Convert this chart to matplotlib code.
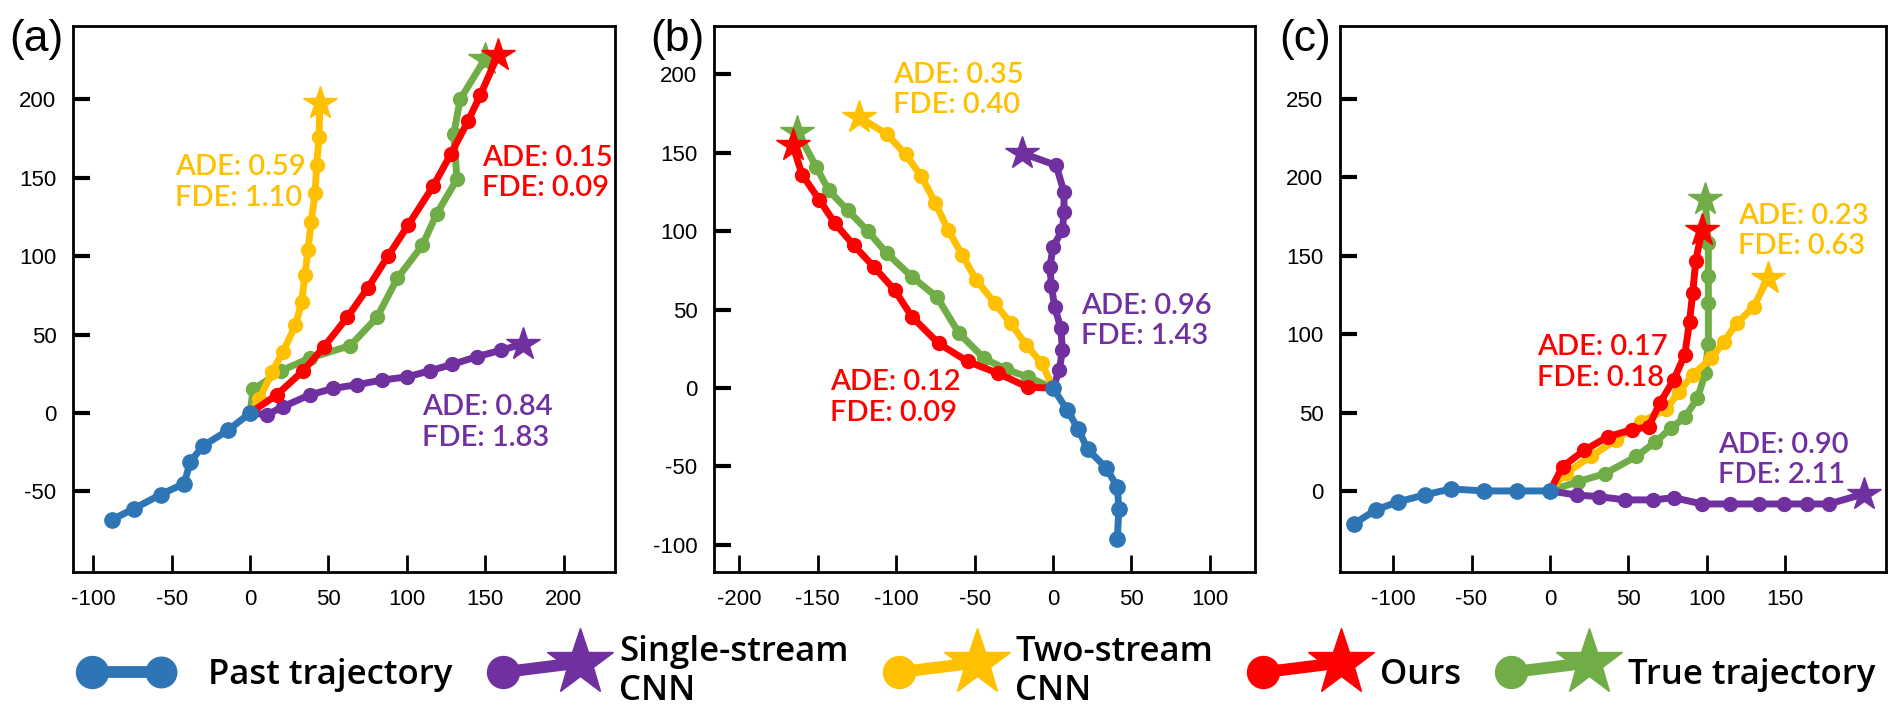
import matplotlib
matplotlib.use('Agg')
import matplotlib.pyplot as plt
from matplotlib.legend_handler import HandlerBase
from matplotlib.lines import Line2D

plt.rcParams['font.family'] = 'Liberation Sans'
plt.rcParams['axes.unicode_minus'] = False

C_PAST = '#2E75B6'
C_SINGLE = '#7030A0'
C_TWO = '#FFC000'
C_OURS = '#FF0000'
C_TRUE = '#70AD47'

# ---- panel (a) ----
past_a_x = [-88, -74, -57, -42, -38, -30, -14, 0]
past_a_y = [-68, -61, -52, -45, -31, -21, -11, 0]
single_a_x = [0, 11, 21, 38, 53, 68, 84, 100, 115, 129, 145, 160, 174]
single_a_y = [0, -1, 4, 11.5, 15.7, 18, 21, 23, 27, 31, 36, 40, 44]
two_a_x = [0, 6, 14, 21, 29, 33, 35, 37, 39, 41.5, 42.5, 44, 44.6]
two_a_y = [0, 9, 26, 39, 56, 71, 88, 104, 122, 140, 158, 176, 198]
ours_a_x = [0, 17, 34, 47, 62, 75, 88, 101, 117, 128, 139, 147, 158]
ours_a_y = [0, 11.5, 27, 42, 61, 79.5, 100, 120, 145, 165, 186, 203, 228]
true_a_x = [0, 2, 20, 38, 64, 81, 94, 110, 119, 132, 130, 134, 150]
true_a_y = [0, 15, 27, 35, 43, 61, 86, 107, 127, 149, 178, 200, 226]

# ---- panel (b) ----
past_b_x = [41, 42, 41, 34, 22, 16, 9, 0]
past_b_y = [-96, -77, -63, -51, -39, -26, -14, 0]
single_b_x = [0, 4, 6, 5, 1, -1, -2, 0, 6, 7, 7, 2, -20]
single_b_y = [0, 11.5, 24, 38, 52, 65, 77, 90, 101, 112, 125, 142, 150]
two_b_x = [0, -7, -17, -27, -37, -49, -58, -67, -75, -84, -94, -106, -124]
two_b_y = [0, 15.7, 27.4, 41.3, 54, 69, 85, 101, 118, 135, 149, 162, 173]
ours_b_x = [0, -16, -35, -54.5, -73, -90, -101, -114, -127, -139, -149, -160, -166]
ours_b_y = [0, 0.5, 9.4, 17, 28.5, 45.5, 62.5, 77, 91, 105, 120, 136, 155]
true_b_x = [0, -16, -30, -44, -60, -74, -90, -106, -118, -131, -143, -151, -163]
true_b_y = [0, 7, 12, 19, 35, 58, 71, 86, 100, 113.5, 126, 141, 163.5]

# ---- panel (c) ----
past_c_x = [-125, -111, -97, -80, -63, -42, -21, 0]
past_c_y = [-21, -12, -7, -2.5, 1.3, 0, 0, 0]
single_c_x = [0, 17, 31, 48, 66, 79, 97, 115, 133, 149, 164, 178, 200]
single_c_y = [0, -2.6, -3.6, -5.7, -5.7, -4.3, -8.3, -8.3, -8.3, -8.3, -8.3, -8.3, -1.9]
two_c_x = [0, 10, 26, 42, 58, 74, 82, 91, 103, 111, 119, 130, 139]
two_c_y = [0, 11.3, 22, 32.5, 44, 52, 63, 74, 85, 95, 107, 117.5, 136]
ours_c_x = [0, 8, 22, 37, 52, 63, 70, 79, 86, 89, 91, 93, 97]
ours_c_y = [0, 15.5, 26, 34.6, 39, 41, 56, 71, 87, 108, 126, 147, 166.5]
true_c_x = [0, 18, 35, 55, 67, 77, 86, 94, 99, 101, 101, 101, 101, 99]
true_c_y = [0, 6, 11, 22, 31, 40, 47, 59, 75, 94, 120, 137, 158, 186]

# ADE / FDE scores per panel: (single, two, ours)
ade_a = [0.84, 0.59, 0.15]
fde_a = [1.83, 1.10, 0.09]
ade_b = [0.96, 0.35, 0.12]
fde_b = [1.43, 0.40, 0.09]
ade_c = [0.90, 0.23, 0.17]
fde_c = [2.11, 0.63, 0.18]

legend_labels = ['Past trajectory', 'Single-stream\nCNN', 'Two-stream\nCNN', 'Ours', 'True trajectory']

fig = plt.figure(figsize=(19.02, 7.22), dpi=100)
fig.patch.set_facecolor('white')

axes_rects = [
    [73 / 1902, 150 / 722, 542 / 1902, 546 / 722],
    [714 / 1902, 150 / 722, 541 / 1902, 546 / 722],
    [1340 / 1902, 150 / 722, 546 / 1902, 546 / 722],
]


def draw_future(ax, x, y, color, z):
    ax.plot(x[:-1], y[:-1], '-o', color=color, lw=5, ms=10, zorder=z)
    ax.plot([x[-2], x[-1]], [y[-2], y[-1]], '-', color=color, lw=5, zorder=z)
    ax.plot(x[-1:], y[-1:], marker='*', ms=25, color=color, linestyle='none', zorder=z)


def draw_panel(ax, past, single, two, ours, true, xlim, ylim, xticks, yticks):
    draw_future(ax, true[0], true[1], C_TRUE, 2)
    draw_future(ax, single[0], single[1], C_SINGLE, 3)
    draw_future(ax, two[0], two[1], C_TWO, 4)
    draw_future(ax, ours[0], ours[1], C_OURS, 5)
    ax.plot(past[0], past[1], '-o', color=C_PAST, lw=5, ms=11, zorder=6)
    ax.set_xlim(xlim)
    ax.set_ylim(ylim)
    ax.set_xticks(xticks)
    ax.set_yticks(yticks)
    ax.tick_params(direction='in', labelsize=16, top=False, right=False)
    ax.tick_params(axis='y', length=12, width=3, pad=12)
    ax.tick_params(axis='x', length=12, width=2, pad=12)
    for s in ax.spines.values():
        s.set_linewidth(2)
        s.set_color('black')


def score(ax, x, y, ade, fde, color):
    ax.text(x, y, f'ADE: {ade:.2f}\nFDE: {fde:.2f}', color=color, fontsize=21,
            family='Lato', fontweight='semibold', ha='left', va='center',
            linespacing=1.2, zorder=7)


ax_a = fig.add_axes(axes_rects[0])
draw_panel(ax_a, (past_a_x, past_a_y), (single_a_x, single_a_y), (two_a_x, two_a_y),
           (ours_a_x, ours_a_y), (true_a_x, true_a_y),
           (-112.9, 232.8), (-101.4, 246.8), range(-100, 201, 50), range(-50, 201, 50))
score(ax_a, -48, 147, ade_a[1], fde_a[1], C_TWO)
score(ax_a, 148, 153, ade_a[2], fde_a[2], C_OURS)
score(ax_a, 110, -6, ade_a[0], fde_a[0], C_SINGLE)

ax_b = fig.add_axes(axes_rects[1])
draw_panel(ax_b, (past_b_x, past_b_y), (single_b_x, single_b_y), (two_b_x, two_b_y),
           (ours_b_x, ours_b_y), (true_b_x, true_b_y),
           (-216.2, 128.8), (-117.3, 230.9), range(-200, 101, 50), range(-100, 201, 50))
score(ax_b, -102, 190, ade_b[1], fde_b[1], C_TWO)
score(ax_b, -142, -6, ade_b[2], fde_b[2], C_OURS)
score(ax_b, 18, 43, ade_b[0], fde_b[0], C_SINGLE)

ax_c = fig.add_axes(axes_rects[2])
draw_panel(ax_c, (past_c_x, past_c_y), (single_c_x, single_c_y), (two_c_x, two_c_y),
           (ours_c_x, ours_c_y), (true_c_x, true_c_y),
           (-133.9, 214.3), (-51.7, 296.6), range(-100, 151, 50), range(0, 251, 50))
score(ax_c, -8, 82, ade_c[2], fde_c[2], C_OURS)
score(ax_c, 120, 166, ade_c[1], fde_c[1], C_TWO)
score(ax_c, 107, 20, ade_c[0], fde_c[0], C_SINGLE)

for ax, lab in zip([ax_a, ax_b, ax_c], ['(a)', '(b)', '(c)']):
    ax.text(-0.017, 0.975, lab, transform=ax.transAxes, ha='right', va='center', fontsize=32)


class TrajHandler(HandlerBase):
    def create_artists(self, legend, orig_handle, xdescent, ydescent, width, height, fontsize, trans):
        c = orig_handle.get_color()
        end = orig_handle.get_marker()
        y = height / 2 - ydescent
        x0 = -xdescent + 11
        if end == 'o':
            x1, y1, ms_end = x0 + 50, y, 22
        else:
            x1, y1, ms_end = -xdescent + width - 23, y + 7, 50
        line = Line2D([x0, x1], [y, y1], color=c, lw=8.5, solid_capstyle='butt')
        start = Line2D([x0], [y], marker='o', ms=23, color=c, linestyle='none')
        stop = Line2D([x1], [y1], marker=end, ms=ms_end, color=c, linestyle='none')
        for a in (line, start, stop):
            a.set_transform(trans)
        return [line, start, stop]


handles = [Line2D([], [], color=C_PAST, marker='o'),
           Line2D([], [], color=C_SINGLE, marker='*'),
           Line2D([], [], color=C_TWO, marker='*'),
           Line2D([], [], color=C_OURS, marker='*'),
           Line2D([], [], color=C_TRUE, marker='*')]

fig.legend(handles, legend_labels, loc='center', bbox_to_anchor=(0.513, 0.07), ncol=5,
           frameon=False, handlelength=3.6, handletextpad=0.2, columnspacing=1.0,
           handler_map={Line2D: TrajHandler()},
           prop={'family': 'Open Sans', 'size': 25, 'weight': 'semibold'})

fig.savefig('out.png', dpi=100, facecolor='white')
